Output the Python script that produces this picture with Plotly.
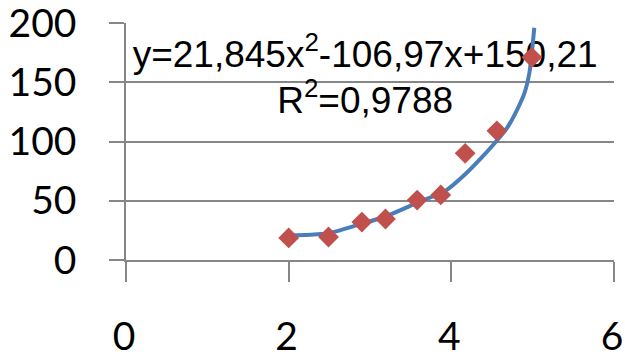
import plotly.graph_objects as go

# data
x_points = [2.0, 2.49, 2.9, 3.19, 3.58, 3.87, 4.17, 4.56, 4.99]
y_points = [18.6, 19.4, 32, 34.6, 50.6, 54.9, 90, 109, 171]

trend_x = [1.93, 2.2, 2.49, 2.87, 3.18, 3.57, 3.94, 4.18, 4.38, 4.55, 4.69, 4.81, 4.90, 4.96, 4.99, 5.02]
trend_y = [20.5, 21, 22.5, 30, 36.5, 48, 59, 73, 87, 100, 112, 127, 141, 158, 175, 196]

x_ticks = [0, 2, 4, 6]
y_ticks = [0, 50, 100, 150, 200]

eq_text = "y=21,845x<sup>2</sup>-106,97x+150,21"
r2_text = "R<sup>2</sup>=0,9788"

fig = go.Figure()

# equation text drawn first so the series sit on top of it
fig.add_trace(go.Scatter(
    x=[2.94, 2.94], y=[171, 132], mode="text",
    text=[eq_text, r2_text],
    textfont=dict(family="Liberation Sans, Arial", size=37, color="black"),
    hoverinfo="skip", showlegend=False, cliponaxis=False,
))

fig.add_trace(go.Scatter(
    x=trend_x, y=trend_y, mode="lines",
    line=dict(color="#4A7EBB", width=4, shape="spline", smoothing=0.6),
    showlegend=False, cliponaxis=False,
))

fig.add_trace(go.Scatter(
    x=x_points, y=y_points, mode="markers",
    marker=dict(symbol="diamond", size=16, color="#C0504D",
                line=dict(width=0)),
    showlegend=False, cliponaxis=False,
))

axis_col = "#868686"
tick_font = dict(family="Lato", size=39, color="black")
fig.update_layout(
    width=625, height=354, autosize=False,
    margin=dict(l=126, r=11, t=23, b=94),
    paper_bgcolor="white", plot_bgcolor="white",
    font=dict(family="Lato", size=39, color="black"),
    xaxis=dict(
        range=[0, 6], tickvals=x_ticks, ticktext=[str(v) for v in x_ticks],
        showgrid=False, zeroline=False, automargin=False,
        showline=True, linecolor=axis_col, linewidth=1.5,
        ticks="outside", ticklen=20, tickcolor=axis_col, tickwidth=1.5,
        ticklabelstandoff=21, ticklabelshift=-2, ticklabeloverflow="allow",
        tickfont=tick_font,
    ),
    yaxis=dict(
        range=[0, 200], tickvals=y_ticks, ticktext=[str(v) for v in y_ticks],
        showgrid=True, gridcolor=axis_col, gridwidth=1.5, zeroline=False,
        automargin=False,
        showline=True, linecolor=axis_col, linewidth=1.5,
        ticks="outside", ticklen=15, tickcolor=axis_col, tickwidth=1.5,
        ticklabelstandoff=25, ticklabeloverflow="allow", tickfont=tick_font,
    ),
)

# remove the page's default body margin so the figure fills the window
fig.write_html(
    "out.html",
    config={"displayModeBar": False},
    post_script="document.body.style.margin='0';document.body.style.overflow='hidden';",
)
